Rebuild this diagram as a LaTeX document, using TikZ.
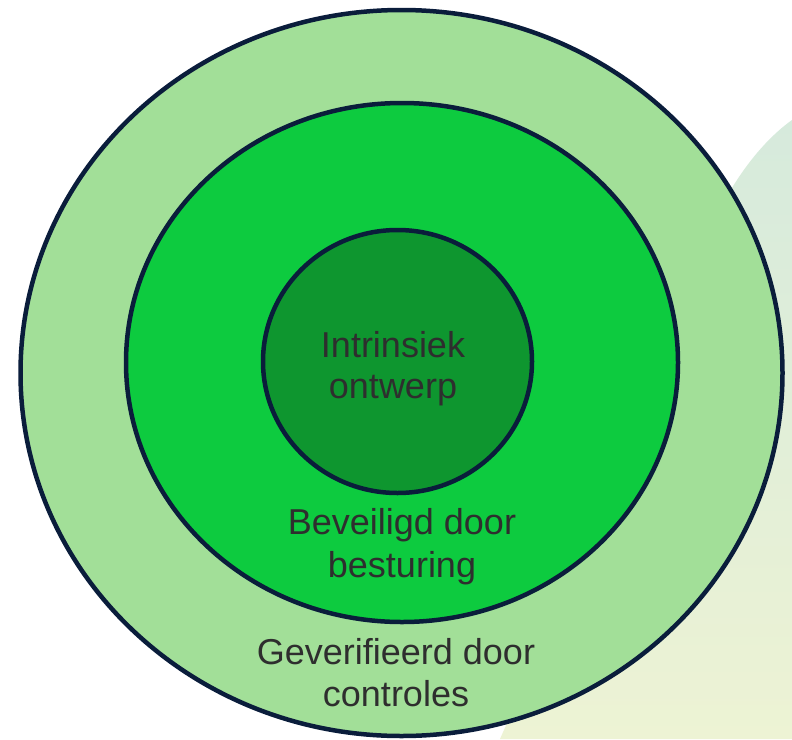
\documentclass[tikz,border=0pt]{standalone}
\usepackage{fontspec}
\setmainfont{Liberation Sans}
\usetikzlibrary{shapes.geometric}
\definecolor{ringline}{HTML}{0A1D3B}
\definecolor{outerfill}{HTML}{A2DF98}
\definecolor{midfill}{HTML}{0DCB3F}
\definecolor{innerfill}{HTML}{0E962F}
\definecolor{txt}{HTML}{2E2E2E}
\definecolor{bgtop}{HTML}{D6EADC}
\definecolor{bgbot}{HTML}{EDF3D4}
\tikzset{
  ring/.style={draw=ringline, line width=4.5pt},
  lbl/.style={anchor=base, text=txt, inner sep=0pt, font=\fontsize{36}{41}\selectfont},
}
\begin{document}
\begin{tikzpicture}[x=1pt,y=-1pt]
\useasboundingbox (0,0) rectangle (792,739);
\fill[white] (0,0) rectangle (792,739);
% background soft shape at right
\shade[top color=bgtop, bottom color=bgbot]
  (792,120) .. controls (750,150) and (700,220) .. (680,330)
  -- (500,739) -- (792,739) -- cycle;
% rings
\draw[ring, fill=outerfill] (401.5,373) ellipse [x radius=381, y radius=363];
\draw[ring, fill=midfill] (402,362.5) ellipse [x radius=276, y radius=259.5];
\draw[ring, fill=innerfill] (397.5,361.5) ellipse [x radius=134.5, y radius=131.5];
% labels
\node[lbl] (in1) at (393,357) {Intrinsiek};
\node[lbl] (in2) at (393,398) {ontwerp};
\node[lbl] (mid1) at (402,534) {Beveiligd door};
\node[lbl] (mid2) at (402,577) {besturing};
\node[lbl] (out1) at (396,664) {Geverifieerd door};
\node[lbl] (out2) at (396,706) {controles};
\end{tikzpicture}
\end{document}
